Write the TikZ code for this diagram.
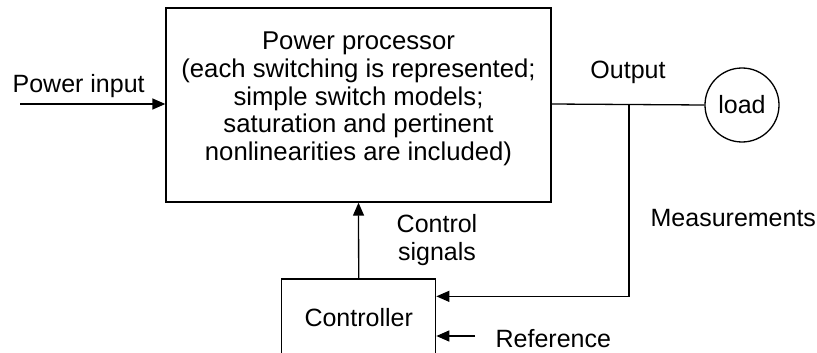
\documentclass[tikz,border=0pt]{standalone}
\usepackage{fontspec}
\setmainfont{Liberation Sans}
\usetikzlibrary{arrows.meta}
\begin{document}
\begin{tikzpicture}[x=1pt,y=-1pt,
  font=\fontsize{25}{27.6}\selectfont,
  line width=1.3pt,
  blk/.style={draw, rectangle, inner sep=0pt},
  lbl/.style={inner sep=0pt},
  arr/.style={-{Triangle[length=13pt,width=11pt]}}]
\clip (0,0) rectangle (817,353);
\node[blk, minimum width=385pt, minimum height=194pt] (pp) at (358.5,105) {};
\node[lbl, align=center, font=\fontsize{25.7}{27.8}\selectfont] (pptext) at (358.5,99) {Power processor\\(each switching is represented;\\simple switch models;\\saturation and pertinent\\nonlinearities are included)};
\node[draw, circle, minimum size=74pt, inner sep=0pt] (load) at (742,105) {load};
\node[blk, minimum width=154pt, minimum height=78pt] (ctrl) at (358.7,318) {Controller};
\coordinate (inp) at (20,104);
\coordinate (j) at (629,104);
\coordinate (ref) at (475,336);
\node[lbl, anchor=west] (tin) at (12,86) {Power input};
\node[lbl] (tout) at (628,72) {Output};
\node[lbl, anchor=west] (tmeas) at (650,218) {Measurements};
\node[lbl, align=center] (tcs) at (437,240) {Control\\signals};
\node[lbl, anchor=west] (tref) at (495,339) {Reference};
\draw[arr] (inp) -- (pp.west |- inp);
\draw (pp.east |- j) -- (load.west);
\draw[arr] (j) |- ([yshift=-18pt]ctrl.north east);
\draw[arr] (ctrl.north) -- (pp.south);
\draw[arr] (ref) -- (ctrl.east |- ref);
\end{tikzpicture}
\end{document}
